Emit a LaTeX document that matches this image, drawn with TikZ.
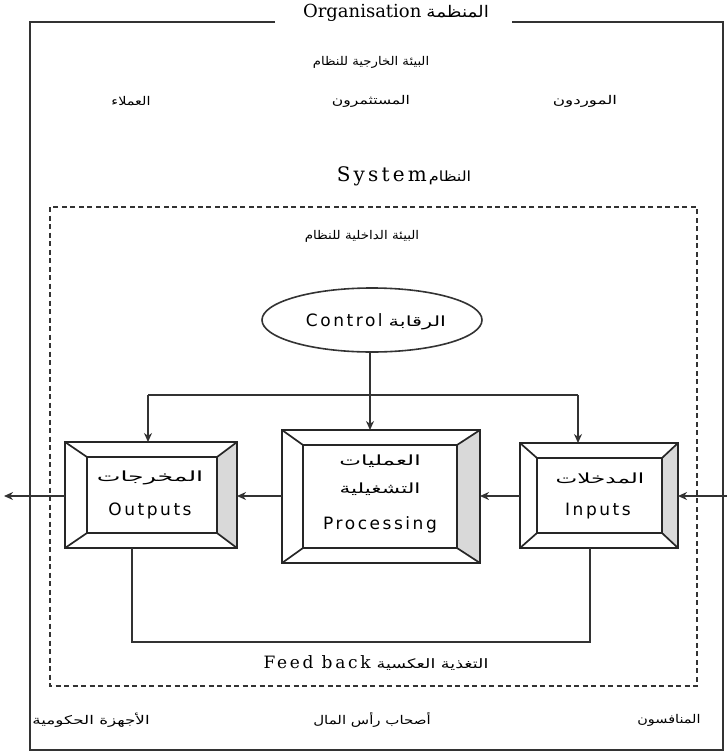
\documentclass[tikz,border=0pt]{standalone}
\usepackage{fontspec}
\usepackage{graphicx}
\setmainfont{DejaVu Serif}
\newfontfamily\arfont[Script=Arabic]{DejaVu Sans}
\newfontfamily\boxsans[LetterSpace=15]{DejaVu Sans}
\newfontfamily\wideserif[LetterSpace=16]{DejaVu Serif}
\usetikzlibrary{shapes.geometric,arrows.meta}
\TeXXeTstate=1
\newcommand{\artxt}[1]{{\arfont\beginR #1\endR}}
% Arabic text stretched horizontally (#1 = stretch factor)
\newcommand{\arwide}[2][1.3]{\scalebox{#1}[1]{\artxt{#2}}}
% beveled frame: outer node #1, inner node #2
\newcommand{\bevelbox}[2]{%
  \fill[bevelshade] (#1.north east) -- (#2.north east) -- (#2.south east) -- (#1.south east) -- cycle;
  \draw[boxline] (#1.north west) rectangle (#1.south east);
  \draw[boxline] (#2.north west) rectangle (#2.south east);
  \foreach \c in {north west,north east,south west,south east}
    \draw[boxline] (#1.\c) -- (#2.\c);
}
\tikzset{
  frameline/.style={line width=1.7pt,draw=black!80},
  dashframe/.style={line width=1.5pt,draw=black!80,dash pattern=on 5pt off 3.5pt},
  boxline/.style={line width=1.7pt,draw=black!85},
  bevelshade/.style={fill=black!15},
  anchorbox/.style={rectangle,inner sep=0pt,outer sep=0pt},
  conn/.style={line width=1.5pt,draw=black!80},
  arr/.style={conn,-{Stealth[length=9pt,width=8pt]}},
  artext/.style={font=\arfont\fontsize{12}{14}\selectfont,inner sep=1pt},
  boxar/.style={font=\arfont\fontsize{14}{16}\selectfont,inner sep=1pt},
  boxen/.style={font=\boxsans\fontsize{17}{19}\selectfont,inner sep=1pt},
}
\begin{document}
\begin{tikzpicture}[x=1pt,y=-1pt]
\useasboundingbox (0,0) rectangle (727,756);

% organisation frame with its title
\node[inner sep=1pt,font=\fontsize{18}{20}\selectfont] (org) at (396,13)
  {Organisation\hspace{5pt}\arwide[1.15]{\fontsize{16}{18}\selectfont المنظمة}};
\draw[frameline] (275,22) -| (30,750) -| (723,22) -- (512,22);

% external environment
\node[artext] (ext) at (371,62) {\arwide[1.1]{البيئة الخارجية للنظام}};
\node[artext] (cust) at (131,101) {\arwide[1.2]{العملاء}};
\node[artext] (inv) at (371,101) {\arwide[1.3]{المستثمرون}};
\node[artext] (supp) at (585,101) {\arwide[1.4]{الموردون}};

% system frame
\node[inner sep=1pt,font=\fontsize{20}{22}\selectfont] (sys) at (404,176)
  {{\wideserif System}\hspace{2pt}\arwide[1.15]{\fontsize{14}{16}\selectfont النظام}};
\draw[dashframe] (50,207) rectangle (697,686);
\node[artext] (int) at (362,236) {\arwide[1.12]{البيئة الداخلية للنظام}};

% control
\node[ellipse,draw=black!80,line width=1.6pt,minimum width=220,minimum height=64,inner sep=0pt]
  (ctrl) at (372,320) {};
\node[inner sep=1pt] (ctrlt) at (376,322)
  {{\boxsans\fontsize{17}{19}\selectfont Control}\hspace{6pt}\arwide[1.5]{\fontsize{14}{16}\selectfont الرقابة}};

% outputs box
\node[anchorbox,minimum width=172,minimum height=106] (outo) at (151,495) {};
\node[anchorbox,minimum width=130,minimum height=76] (outi) at (152,495) {};
\bevelbox{outo}{outi}
\node[boxar] (outar) at (150,478) {\arwide[1.8]{المخرجات}};
\node[boxen] (outen) at (150,511) {Outputs};

% processing box
\node[anchorbox,minimum width=198,minimum height=133] (proco) at (381,496.5) {};
\node[anchorbox,minimum width=154,minimum height=103] (proci) at (380,496.5) {};
\bevelbox{proco}{proci}
\node[boxar] (procar1) at (380,461) {\arwide[1.65]{العمليات}};
\node[boxar] (procar2) at (380,489) {\arwide[1.55]{التشغيلية}};
\node[boxen] (procen) at (380,525) {Processing};

% inputs box
\node[anchorbox,minimum width=158,minimum height=105] (ino) at (599,495.5) {};
\node[anchorbox,minimum width=125,minimum height=75] (ini) at (599.5,495.5) {};
\bevelbox{ino}{ini}
\node[boxar] (inar) at (600,478) {\arwide[1.65]{المدخلات}};
\node[boxen] (inen) at (598,511) {Inputs};

% control distribution
\coordinate (cl) at (148,395);
\coordinate (cr) at (578,395);
\coordinate (cm) at (370,395);
\draw[conn] (cl) -- (cr);
\draw[arr] (ctrl.south -| cm) -- (cm |- proco.north);
\draw[arr] (cl) -- (cl |- outo.north);
\draw[arr] (cr) -- (cr |- ino.north);

% main flow
\coordinate (src) at (727,496);
\coordinate (dst) at (4,496);
\draw[arr] (src) -- (ino.east |- src);
\draw[arr] (ino.west |- src) -- (proco.east |- src);
\draw[arr] (proco.west |- src) -- (outo.east |- src);
\draw[arr] (outo.west |- src) -- (dst);

% feedback loop
\coordinate (fa) at (132,642);
\coordinate (fb) at (590,642);
\draw[conn] (fa |- outo.south) -- (fa) -- (fb) -- (fb |- ino.south);
\node[inner sep=1pt] (fbt) at (376,663)
  {{\wideserif\fontsize{17}{19}\selectfont Feed back}\hspace{6pt}\arwide[1.35]{\fontsize{13}{15}\selectfont التغذية العكسية}};

% stakeholders below
\node[artext] (gov) at (91,720) {\arwide[1.4]{الأجهزة الحكومية}};
\node[artext] (cap) at (372,720) {\arwide[1.25]{أصحاب رأس المال}};
\node[artext] (comp) at (669,720) {\arwide[1.2]{المنافسون}};
\end{tikzpicture}
\end{document}
